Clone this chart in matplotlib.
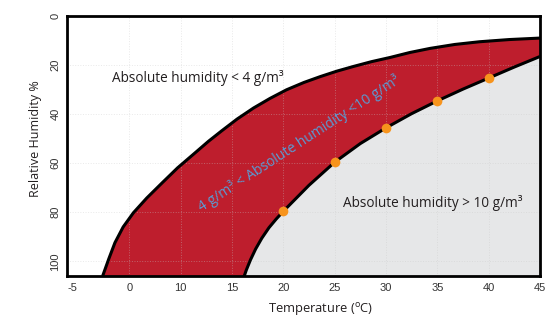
import numpy as np
import matplotlib
matplotlib.use('Agg')
import matplotlib.pyplot as plt

plt.rcParams['mathtext.fontset'] = 'custom'
plt.rcParams['mathtext.rm'] = 'Open Sans'

# upper boundary (absolute humidity 4 g/m3)
t_low = [2.4, 3.0, 3.6, 4.4, 5.4, 6.7, 8.2, 9.7, 11.4, 12.7, 14.0, 15.5, 17.1, 18.7,
         20.3, 22.0, 23.6, 25.2, 26.8, 28.6, 30.4, 32.3, 34.3, 36.7, 39.1, 42.0, 45.0]
rh_low = [106, 99, 92.4, 86.0, 80.2, 74.2, 68.0, 61.9, 55.8, 51.1, 46.8, 42.0, 37.5, 33.6,
          30.1, 27.1, 24.7, 22.5, 20.6, 18.6, 16.9, 14.9, 13.2, 11.6, 10.5, 9.6, 9.0]

# lower boundary (absolute humidity 10 g/m3)
t_high = [16.15, 16.4, 16.8, 17.3, 17.9, 18.6, 19.3, 20, 22.5, 25, 27.5, 30, 32.5, 35,
          37.5, 40, 42.5, 45]
rh_high = [106.5, 103.5, 99.4, 95.0, 90.6, 86.3, 82.8, 79.6, 69, 59.6, 52, 45.6, 39.8, 34.6,
           29.8, 25.3, 20.8, 16.5]

# marked points on the 10 g/m3 curve
t_dots = [20, 25, 30, 35, 40]
rh_dots = [79.6, 59.6, 45.6, 34.6, 25.3]

xtick_pos = [-0.5, 5, 10, 15, 20, 25, 30, 35, 40, 45]
xtick_lab = ['-5', '0', '10', '15', '20', '25', '30', '35', '40', '45']
ytick_pos = [0, 20, 40, 60, 80, 100]

red = '#be1e2d'
grey = '#e6e7e8'
orange = '#f7941d'
ink = '#231f20'

fig = plt.figure(figsize=(5.55, 3.3), dpi=100)
ax = fig.add_axes([0.1213, 0.1636, 0.8517, 0.7879])

bottom = 106
# red band between the two curves
red_x = t_low + t_high[::-1]
red_y = rh_low + rh_high[::-1]
ax.fill(red_x, red_y, color=red, lw=0, zorder=1)
# grey region under the 10 g/m3 curve
ax.fill(t_high + [45], rh_high + [bottom], color=grey, lw=0, zorder=1)

ax.plot(t_low, rh_low, color='black', lw=2.2, zorder=3, solid_capstyle='butt')
ax.plot(t_high, rh_high, color='black', lw=2.2, zorder=3, solid_capstyle='butt')
ax.plot(t_dots, rh_dots, 'o', color=orange, ms=7, mec='none', zorder=4)

# faint dotted grid drawn over the fills
for x in xtick_pos[1:-1]:
    ax.axvline(x, color='#c8c8c8', lw=0.7, ls=':', alpha=0.4, zorder=2)
for y in ytick_pos[1:]:
    ax.axhline(y, color='#c8c8c8', lw=0.7, ls=':', alpha=0.4, zorder=2)

ax.set_xlim(-1.04, 45)
ax.set_ylim(bottom, 0)
ax.set_xticks(xtick_pos)
ax.set_xticklabels(xtick_lab, family='Liberation Sans', fontsize=8, color='#333333')
ax.set_yticks(ytick_pos)
ax.set_yticklabels([str(v) for v in ytick_pos], family='Liberation Sans', fontsize=8,
                   color='#333333', rotation=90, va='center')
ax.tick_params(length=0, pad=5)

for s in ax.spines.values():
    s.set_linewidth(2)
    s.set_color('black')

ax.set_xlabel('Temperature ($^{\\mathrm{o}}$C)', family='Open Sans', fontsize=9.3, color=ink)
ax.xaxis.set_label_coords(0.535, -0.095)
ax.set_ylabel('Relative Humidity %', family='Open Sans', fontsize=9, color=ink)
ax.yaxis.set_label_coords(-0.054, 0.53)

ax.text(3.28, 25.2, 'Absolute humidity < 4 g/m³', family='Open Sans', fontsize=9.8,
        color=ink, va='center', ha='left', zorder=5)
ax.text(25.83, 76.1, 'Absolute humidity > 10 g/m³', family='Open Sans', fontsize=9.8,
        color=ink, va='center', ha='left', zorder=5)
ax.text(21.5, 52, '4 g/m³ < Absolute humidity <10 g/m³', family='Open Sans', fontsize=10,
        color='#5a9bd3', va='center', ha='center', rotation=33,
        rotation_mode='anchor', zorder=5)

fig.savefig('out.png', dpi=100)
